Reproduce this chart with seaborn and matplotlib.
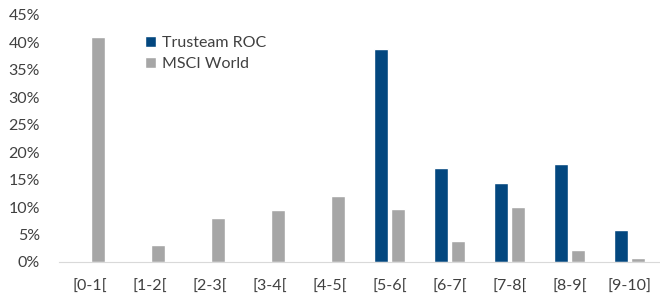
import pandas as pd
import matplotlib.pyplot as plt
import seaborn as sns
from matplotlib.ticker import PercentFormatter

categories = ['[0-1[', '[1-2[', '[2-3[', '[3-4[', '[4-5[',
              '[5-6[', '[6-7[', '[7-8[', '[8-9[', '[9-10]']
trusteam = [0, 0, 0, 0, 0, 38.8, 17.2, 14.4, 17.8, 5.9]
msci = [40.9, 3.1, 8.0, 9.5, 12.0, 9.7, 3.8, 10.0, 2.1, 0.7]
series = ['Trusteam ROC', 'MSCI World']
colors = ['#03477f', '#a6a6a6']

df = pd.DataFrame({
    'cat': categories * 2,
    'val': trusteam + msci,
    'serie': [series[0]] * len(categories) + [series[1]] * len(categories),
})

sns.set_style('white')
plt.rcParams['font.family'] = ['Lato', 'DejaVu Sans']

fig = plt.figure(figsize=(6.6, 2.94), dpi=100)
ax = fig.add_axes([0.090, 0.109, 0.909, 0.840])
sns.barplot(data=df, x='cat', y='val', hue='serie', palette=colors,
            width=0.567, gap=0.176, ax=ax, saturation=1, legend=True)

ax.set_ylim(0, 45)
ax.set_xlim(-0.5, 9.5)
ax.set_yticks(range(0, 46, 5))
ax.yaxis.set_major_formatter(PercentFormatter(decimals=0))
ax.set_xlabel('')
ax.set_ylabel('')
ax.tick_params(axis='both', length=0, labelsize=11.5, colors='#404040')
ax.tick_params(axis='x', pad=13)
ax.tick_params(axis='y', pad=14)
for s in ['left', 'right', 'top']:
    ax.spines[s].set_visible(False)
ax.spines['bottom'].set_color('#d9d9d9')

leg = ax.legend(loc='upper left', bbox_to_anchor=(0.118, 0.975), frameon=False,
                fontsize=11.5, handlelength=0.7, handleheight=0.7,
                handletextpad=0.4, labelspacing=0.45)
for t in leg.get_texts():
    t.set_color('#404040')

fig.savefig('out.png', dpi=100)
